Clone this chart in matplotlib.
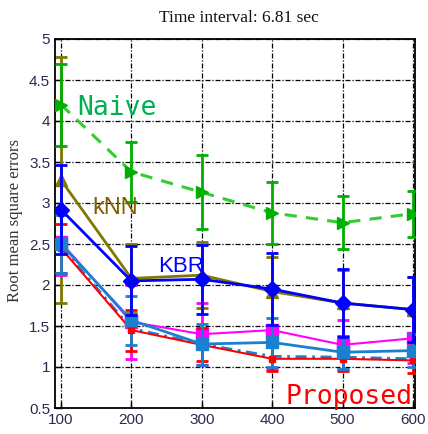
import matplotlib
matplotlib.use("Agg")
import matplotlib.pyplot as plt

x = [100, 200, 300, 400, 500, 600]
xticks = [100, 200, 300, 400, 500, 600]
yticks = [0.5, 1, 1.5, 2, 2.5, 3, 3.5, 4, 4.5, 5]
yticklabels = ["0.5", "1", "1.5", "2", "2.5", "3", "3.5", "4", "4.5", "5"]

naive = [4.2, 3.38, 3.13, 2.88, 2.76, 2.87]
naive_err = [0.5, 0.37, 0.45, 0.38, 0.32, 0.28]
knn = [3.28, 2.08, 2.12, 1.92, 1.78, 1.70]
knn_err = [1.5, 0.42, 0.4, 0.42, 0.4, 0.4]
kbr = [2.92, 2.05, 2.07, 1.95, 1.78, 1.70]
kbr_err = [0.54, 0.42, 0.42, 0.44, 0.42, 0.4]
magenta = [2.52, 1.55, 1.40, 1.45, 1.27, 1.35]
magenta_err = [0.4, 0.45, 0.38, 0.48, 0.3, 0.3]
lightblue = [2.50, 1.57, 1.28, 1.30, 1.18, 1.20]
lightblue_err = [0.35, 0.3, 0.25, 0.3, 0.2, 0.2]
lightblue2 = [2.47, 1.47, 1.28, 1.13, 1.12, 1.10]
proposed = [2.45, 1.45, 1.27, 1.10, 1.10, 1.08]
proposed_err = [0.3, 0.25, 0.2, 0.15, 0.15, 0.15]

fig = plt.figure(figsize=(4.28, 4.34), dpi=100)
ax = fig.add_axes([55/428, 26/434, 360/428, 369/434])

grid_ls = (0, (4, 1.5, 1, 1.5))
for v in xticks:
    ax.axvline(v, color="black", lw=0.9, ls=grid_ls, zorder=0)
for v in yticks:
    ax.axhline(v, color="black", lw=0.9, ls=grid_ls, zorder=0)

def series(y, err, color, marker, ls="-", lw=1.5, ms=9, lcolor=None, z=2):
    if err is not None:
        ax.errorbar(x, y, yerr=err, fmt="none", ecolor=color, elinewidth=2,
                    capsize=4, capthick=2, zorder=z)
    ax.plot(x, y, color=lcolor or color, ls=ls, lw=lw, marker=marker, ms=ms,
            mfc=color, mec=color, zorder=z + 0.5)

series(naive, naive_err, "#00b000", ">", ls=(0, (4, 3)), lw=2.2, lcolor="#33cc33", z=3)
series(knn, knn_err, "#807800", "^", lw=2.0, z=2)
series(kbr, kbr_err, "#0000ff", "D", lw=2.0, ms=8, z=4)
series(magenta, magenta_err, "#ff00ff", "s", lw=1.5, z=2)
series(lightblue, lightblue_err, "#1a80d0", "s", lw=2.0, z=3)
ax.plot(x, lightblue2, color="#1a80d0", ls=(0, (4, 2, 1, 2)), lw=2.0, zorder=3)
series(proposed, proposed_err, "#ff0000", "s", lw=1.5, ms=4, z=2.8)

ax.set_xlim(91.5, 603)
ax.set_ylim(0.5, 5)
ax.set_xticks(xticks)
ax.set_xticklabels([str(v) for v in xticks])
ax.set_yticks(yticks)
ax.set_yticklabels(yticklabels)
ax.tick_params(direction="in", length=5, width=1, labelsize=11,
               labelcolor="#2a2a50", top=False, right=False)
for lab in ax.get_xticklabels() + ax.get_yticklabels():
    lab.set_family("Liberation Sans")
for s in ax.spines.values():
    s.set_linewidth(1.3)
    s.set_color("black")

ax.text(179, 4.16, "Naive", color="#00b050", fontsize=19,
        family="DejaVu Sans Mono", va="center", ha="center", zorder=6)
ax.text(177, 2.94, "kNN", color="#7f6000", fontsize=17,
        family="Liberation Sans", va="center", ha="center", zorder=6)
ax.text(270, 2.23, "KBR", color="#0000ff", fontsize=16,
        family="Liberation Sans", va="center", ha="center", zorder=6)
ax.text(509, 0.63, "Proposed", color="#ff0000", fontsize=19,
        family="DejaVu Sans Mono", va="center", ha="center", zorder=6)

fig.text(239/428, 1 - 18/434, "Time interval: 6.81 sec", family="Liberation Serif",
         fontsize=12.5, ha="center", va="center", color="#111111")
fig.text(15/428, 1 - 220/434, "Root mean square errors", family="Liberation Serif",
         fontsize=12, ha="center", va="center", rotation=90, color="#333333")

fig.savefig("out.png", dpi=100)
